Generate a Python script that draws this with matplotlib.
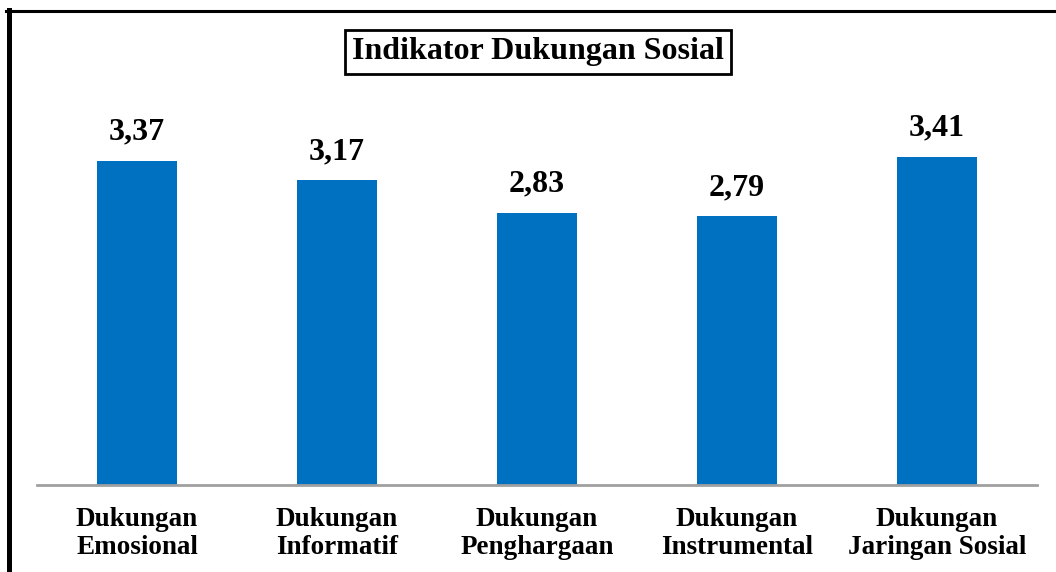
import matplotlib
matplotlib.use("Agg")
import matplotlib.pyplot as plt
from matplotlib.lines import Line2D

# Data
categories = ["Dukungan\nEmosional", "Dukungan\nInformatif", "Dukungan\nPenghargaan",
              "Dukungan\nInstrumental", "Dukungan\nJaringan Sosial"]
values = [3.37, 3.17, 2.83, 2.79, 3.41]
value_labels = ["3,37", "3,17", "2,83", "2,79", "3,41"]

W, H = 1056, 572
plt.rcParams['font.family'] = ['Liberation Serif', 'DejaVu Serif']

fig = plt.figure(figsize=(W / 100, H / 100), dpi=100)
ax = fig.add_axes([37 / W, 87 / H, 1000 / W, 385 / H])

x = range(len(categories))
ax.bar(x, values, width=0.4, color='#0070C0', zorder=2)
ax.set_xlim(-0.5, len(categories) - 0.5)
ax.set_ylim(0, 4)

for xi, v, lab in zip(x, values, value_labels):
    ax.text(xi, v + 0.145, lab, ha='center', va='bottom', fontsize=23, fontweight='bold')

ax.set_xticks(list(x))
ax.set_xticklabels(categories, fontsize=19.5, fontweight='bold', linespacing=1.15)
ax.tick_params(axis='x', length=0, pad=16)
ax.set_yticks([])
for side in ['left', 'right', 'top']:
    ax.spines[side].set_visible(False)
ax.spines['bottom'].set_color('#a0a0a0')
ax.spines['bottom'].set_linewidth(2)

# Title in a box
fig.text(538 / W, 1 - 52 / H, "Indikator Dukungan Sosial", ha='center', va='center',
         fontsize=23, fontweight='bold',
         bbox=dict(boxstyle='square,pad=0.22', facecolor='white', edgecolor='black', linewidth=2))

# Partial frame: left and top edges
fig.add_artist(Line2D([8.5 / W, 8.5 / W], [0, 1 - 10 / H], color='black', linewidth=3.6,
                      transform=fig.transFigure))
fig.add_artist(Line2D([6 / W, 1], [1 - 11 / H, 1 - 11 / H], color='black', linewidth=2.2,
                      transform=fig.transFigure))

fig.savefig('out.png', dpi=100)
